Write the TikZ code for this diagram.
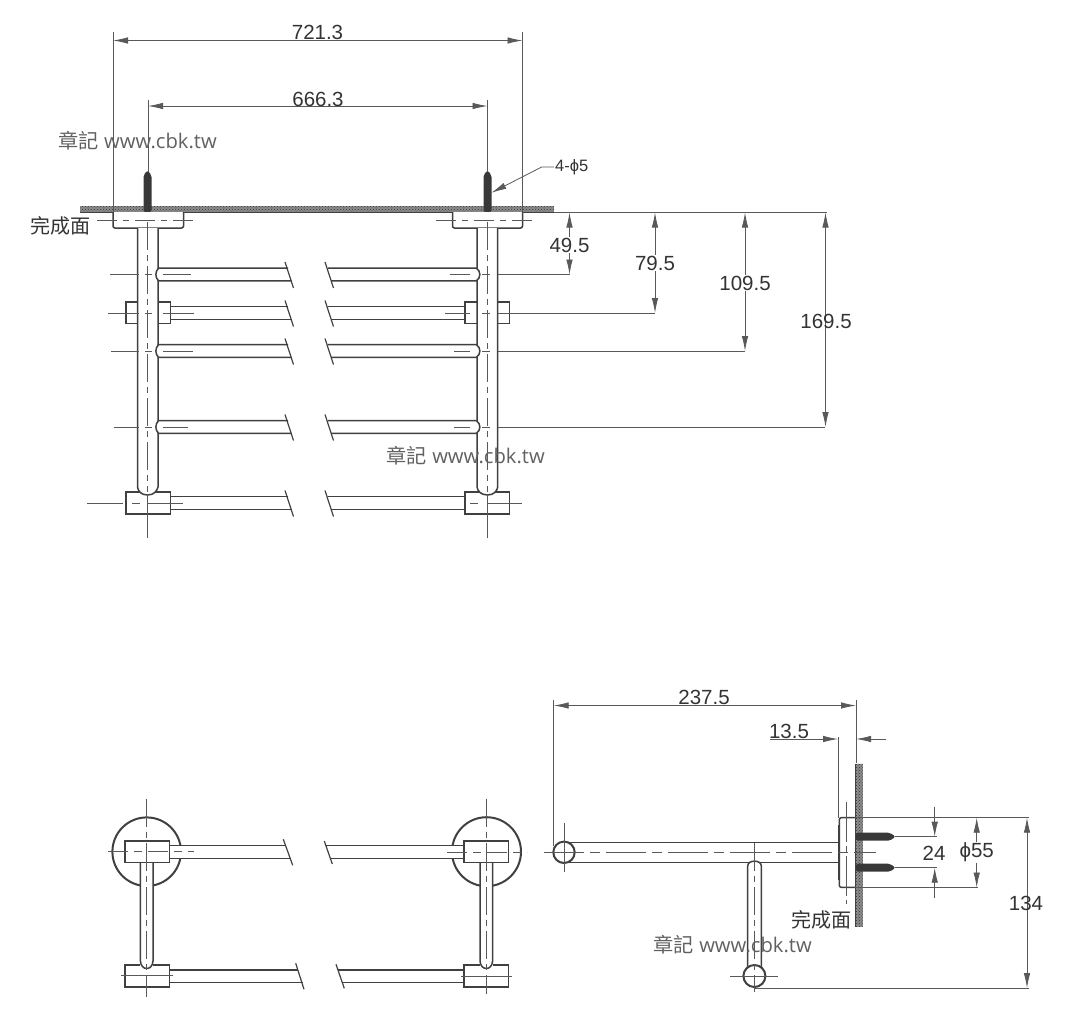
\documentclass[tikz,border=0pt]{standalone}
\usepackage{fontspec}
\setmainfont{Liberation Sans}
\newfontfamily\cjk{Noto Sans CJK TC}
\newfontfamily\stampfont{Open Sans}
\usetikzlibrary{arrows.meta,patterns}
\tikzset{
  part/.style={draw=black!75,line width=1.5pt,fill=white},
  edgeline/.style={draw=black!75,line width=1.5pt},
  thinline/.style={draw=black!65,line width=0.8pt},
  centerline/.style={draw=black!65,line width=0.8pt,dash pattern=on 28pt off 5pt on 6pt off 5pt},
  wall/.style={fill=black!45,postaction={pattern=crosshatch dots,pattern color=black!80}},
  screwbody/.style={fill=black!78,rounded corners=2pt},
  dimline/.style={draw=black!65,line width=0.8pt,{Latex[length=15pt,width=6.5pt]}-{Latex[length=15pt,width=6.5pt]}},
  dimend/.style={draw=black!65,line width=0.8pt,-{Latex[length=15pt,width=6.5pt]}},
  dimlabel/.style={font=\fontsize{20.5}{21}\selectfont,text=black!80,inner sep=1pt},
  stamp/.style={font=\fontsize{20.2}{21}\selectfont,text=black!62,inner sep=0pt},
  facelabel/.style={font=\cjk\fontsize{20}{21}\selectfont,text=black!80,inner sep=0pt}
}
\begin{document}
\begin{tikzpicture}[x=1pt,y=-1pt]
\useasboundingbox (0,0) rectangle (1084,1015);
% front view: wall
\fill[wall] (80,206) rectangle (554,212.5);
\draw[edgeline] (80,212.3) -- (554,212.3);
\foreach \sx in {147.5,487.5}
  \fill[screwbody] (\sx-4,212) -- (\sx-4,175) -- (\sx,170.5) -- (\sx+4,175) -- (\sx+4,212) -- cycle;
\draw[part,rounded corners=2pt] (113,212) -- (113,228) -- (183.5,228) -- (183.5,212);
\draw[part,rounded corners=2pt] (452.5,212) -- (452.5,228) -- (522.5,228) -- (522.5,212);
% front view: blocks behind the tubes
\foreach \yc/\ya/\yb in {313/302/323.5,503/492/514}{
  \draw[part] (126,\ya) rectangle (170.5,\yb);
  \draw[part] (465,\ya) rectangle (509.5,\yb);
}
% front view: tubes
\filldraw[part] (137.5,228) -- (137.5,487) .. controls (138,491) and (141,495) .. (147.5,495) .. controls (154,495) and (157,491) .. (158,487) -- (158,228);
\filldraw[part] (477,228) -- (477,487) .. controls (477.5,491) and (481,495) .. (487.5,495) .. controls (494,495) and (497,491) .. (497.7,487) -- (497.7,228);
% front view: rails
\foreach \yc in {274.5,351,427}{
  \filldraw[part] ({288},{\yc-6.3}) -- ({158.5},{\yc-6.3}) .. controls ({155},{\yc-3}) and ({155},{\yc+3}) .. ({158.5},{\yc+6.3}) -- ({291.5},{\yc+6.3});
  \filldraw[part] ({328},{\yc-6.3}) -- ({476.5},{\yc-6.3}) .. controls ({481},{\yc-3}) and ({481},{\yc+3}) .. ({476.5},{\yc+6.3}) -- ({331},{\yc+6.3});
}
\foreach \yc in {313,503}{
  \draw[edgeline] (170.5,{\yc-6.3}) -- (288,{\yc-6.3}) (170.5,{\yc+6.3}) -- (291.5,{\yc+6.3});
  \draw[edgeline] (328,{\yc-6.3}) -- (465,{\yc-6.3}) (331,{\yc+6.3}) -- (465,{\yc+6.3});
}
\foreach \yc in {274.5,313,351,427,503}{
  \draw[edgeline,line width=1.2pt] (285,{\yc-12.5}) -- (293.5,{\yc+13.5});
  \draw[edgeline,line width=1.2pt] (325,{\yc-12.5}) -- (333.5,{\yc+13.5});
}
% front view: centre lines
\draw[centerline] (147.5,222) -- (147.5,492);
\draw[centerline] (487.5,222) -- (487.5,492);
\draw[thinline] (147.5,494) -- (147.5,538) (487.5,494) -- (487.5,538);
\draw[centerline,dash pattern=on 20pt off 6pt on 6pt off 6pt] (97,220.5) -- (198,220.5);
\draw[centerline,dash pattern=on 20pt off 6pt on 6pt off 6pt] (436,220.5) -- (538,220.5);
\foreach \yc/\xa/\xb in {274.5/110/191,313/108/194,351/111/193,427/114/188}{
  \draw[thinline] (\xa,\yc) -- (139,\yc) (145,\yc) -- (152,\yc) (163,\yc) -- (\xb,\yc);
}
\draw[thinline] (87,503) -- (123,503) (132,503) -- (140,503) (147,503) -- (183,503);
\foreach \yc/\xa/\xb in {274.5/450/570,313/445/655,351/454/745,427/454/825}{
  \draw[thinline] (\xa,\yc) -- (470,\yc) (482,\yc) -- (490,\yc) (498,\yc) -- (\xb,\yc);
}
\draw[thinline] (470,503) -- (478,503) (487,503) -- (522,503);
% front view: dimensions
\draw[thinline] (113,32) -- (113,212) (522.5,32) -- (522.5,212);
\draw[thinline] (148,100) -- (148,172) (487.5,100) -- (487.5,172);
\draw[dimline] (113,40.5) -- (522.5,40.5);
\draw[dimline] (148,106) -- (487.5,106);
\node[dimlabel] (width721) at (317.5,32) {721.3};
\node[dimlabel] (width666) at (318,99) {666.3};
\draw[thinline] (554,212.5) -- (827,212.5);
\draw[dimline] (569.5,212.5) -- (569.5,274.5);
\draw[dimline] (655,212.5) -- (655,313);
\draw[dimline] (745,212.5) -- (745,351);
\draw[dimline] (825.5,212.5) -- (825.5,427);
\node[dimlabel,fill=white] (drop49) at (569.5,245) {49.5};
\node[dimlabel,fill=white] (drop79) at (655,263) {79.5};
\node[dimlabel,fill=white] (drop109) at (745,283) {109.5};
\node[dimlabel] (drop169) at (826,321) {169.5};
\node[dimlabel,anchor=west,font=\fontsize{16.5}{17}\selectfont] (screwnote) at (554,167) {4-ϕ5};
\draw[dimend] (screwnote.west) -- (541.7,167) -- (491.5,192.7);
\node[facelabel] (faceA) at (60,226) {完成面};
% plan view: rosettes, then what lies over them
\draw[part,line width=2pt] (146.7,851.7) circle (34.3);
\draw[part,line width=2pt] (486.5,851.7) circle (34.5);
\fill[white] (169.3,845.7) rectangle (190,858.3) (443,845.7) rectangle (464,858.3);
\draw[edgeline] (169.3,845.7) -- (285.5,845.7) (169.3,858.3) -- (290,858.3);
\draw[edgeline] (326,845.7) -- (464,845.7) (330.5,858.3) -- (464,858.3);
\draw[edgeline,line width=1.2pt] (283.3,839.3) -- (292.7,865.3) (324.3,841) -- (332.3,864);
\draw[edgeline] (169.3,970) -- (298,970) (169.3,982.7) -- (302.5,982.7);
\draw[edgeline] (338,970) -- (464,970) (342.5,982.7) -- (464,982.7);
\draw[edgeline,line width=1.2pt] (295.7,963.3) -- (304,989.3) (336,964.3) -- (344.3,988.3);
\foreach \xc/\xa/\xb in {146.7/125/169.3,486.3/464/508.3}{
  \filldraw[part] ({\xc-6.3},860) -- ({\xc-6.3},961) .. controls ({\xc-6},966) and ({\xc-3},968.5) .. (\xc,968.5) .. controls ({\xc+3},968.5) and ({\xc+6},966) .. ({\xc+6.3},961) -- ({\xc+6.3},860);
  \draw[part] (\xa,841) rectangle (\xb,862.7);
  \draw[edgeline] ({\xc-6.3},965) -- (\xa,965) -- (\xa,987) -- (\xb,987) -- (\xb,965) -- ({\xc+6.3},965);
}
% plan view: centre lines
\draw[centerline] (146.7,799) -- (146.7,997);
\draw[centerline] (486,799) -- (486,994);
\draw[centerline,dash pattern=on 20pt off 6pt on 8pt off 6pt] (108,851.7) -- (194,851.7);
\draw[centerline,dash pattern=on 20pt off 6pt on 8pt off 6pt] (447,852) -- (527,852);
\draw[thinline] (121,975.7) -- (172.7,975.7) (461,976) -- (511.7,976);
% side view: wall and flange
\fill[wall] (855.5,763.5) rectangle (862.7,926.5);
\draw[edgeline] (855.3,763.5) -- (855.3,926.5);
\draw[edgeline,rounded corners=2pt] (855.3,817.7) -- (839.3,817.7) -- (839.3,887.3) -- (855.3,887.3);
\draw[edgeline,line width=2pt] (838.8,825) -- (838.8,880);
\foreach \yc in {836.7,867.7}
  \fill[screwbody] (856,{\yc-4}) -- (890,{\yc-4}) -- (895.5,\yc) -- (890,{\yc+4}) -- (856,{\yc+4}) -- cycle;
% side view: rails and end circles
\draw[edgeline] (564,842.3) -- (838,842.3) (564,862.7) -- (838,862.7);
\filldraw[part] (747.7,968) -- (747.7,866) .. controls (747.7,859.5) and (761.3,859.5) .. (761.3,866) -- (761.3,968);
\draw[part,line width=2pt] (564,852.3) circle (10.7);
\draw[part,line width=2pt] (754.4,976) circle (11);
% side view: centre lines
\draw[centerline,dash pattern=on 40pt off 6pt on 10pt off 6pt] (544,852.5) -- (876,852.5);
\draw[thinline] (564,823) -- (564,871.7);
\draw[thinline] (730,976) -- (778,976);
\draw[centerline,dash pattern=on 28pt off 5pt on 6pt off 5pt] (754.5,842.7) -- (754.5,991.7);
\draw[centerline,dash pattern=on 40pt off 4pt on 6pt off 4pt] (846,801.7) -- (846,904.3);
% side view: dimensions
\draw[thinline] (553.7,700) -- (553.7,846) (856,700) -- (856,763);
\draw[thinline] (838,737) -- (838,818);
\draw[dimline] (553.7,705.5) -- (856,705.5);
\node[dimlabel] (depth237) at (704,697) {237.5};
\draw[dimend] (770,739) -- (838,739);
\draw[dimend] (886,739) -- (856,739);
\node[dimlabel] (depth13) at (789,731) {13.5};
\draw[thinline] (855,817.7) -- (1029,817.7) (855,887.5) -- (978,887.5);
\draw[thinline] (895,836.7) -- (937,836.7) (895,867.7) -- (937,867.7);
\draw[thinline] (755,988) -- (1029,988);
\draw[dimend] (934.7,807.3) -- (934.7,836.7);
\draw[dimend] (934.7,898.3) -- (934.7,867.7);
\node[dimlabel] (pitch24) at (934,853) {24};
\draw[dimline] (976.7,817.7) -- node[dimlabel,fill=white] (dia55) {ϕ55} (976.7,887.5);
\draw[dimline] (1027,817.7) -- (1027,988);
\node[dimlabel] (height134) at (1026,903) {134};
\node[facelabel] (faceB) at (821,920) {完成面};
% stamps
\foreach \sx/\sy/\sname in {137.5/141/stampA,465.5/456/stampB,732.5/945/stampC}
  \node[stamp] (\sname) at (\sx,\sy) {{\cjk 章記} {\stampfont www.cbk.tw}};
\end{tikzpicture}
\end{document}
